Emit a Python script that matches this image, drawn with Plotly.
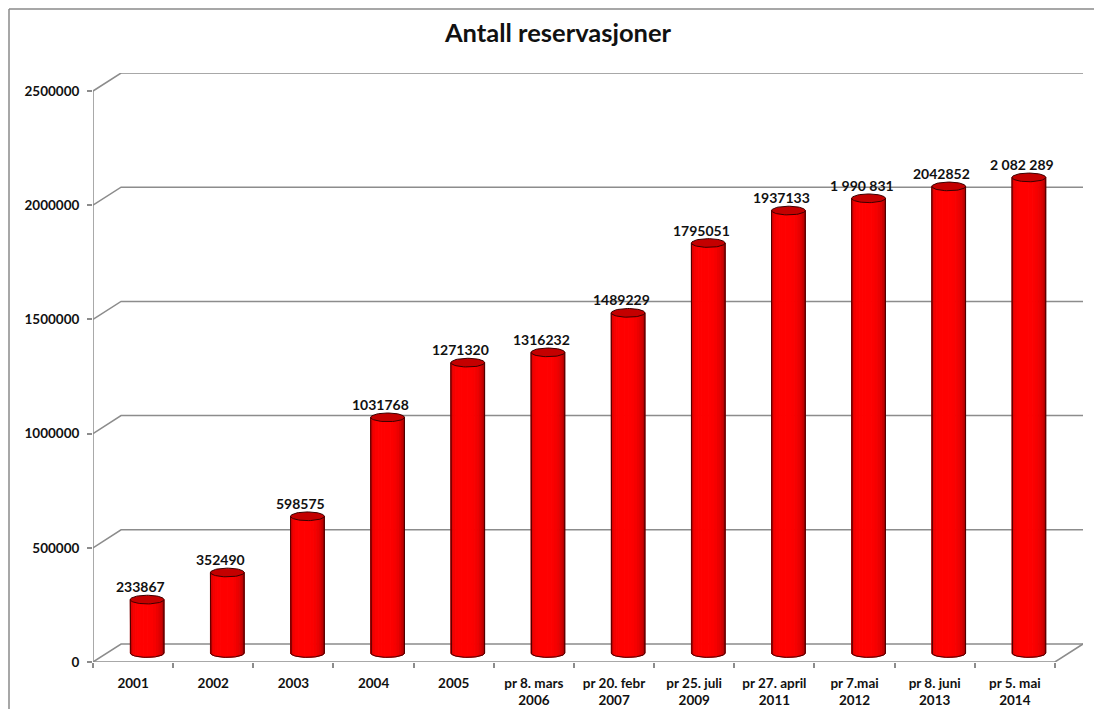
import numpy as np
import plotly.graph_objects as go

# ---------------- data ----------------
categories = ["2001", "2002", "2003", "2004", "2005",
              "pr 8. mars<br>2006", "pr 20. febr<br>2007", "pr 25. juli<br>2009",
              "pr 27. april<br>2011", "pr 7.mai<br>2012", "pr 8. juni<br>2013",
              "pr 5. mai<br>2014"]
values = [233867, 352490, 598575, 1031768, 1271320, 1316232, 1489229,
          1795051, 1937133, 1990831, 2042852, 2082289]
value_labels = ["233867", "352490", "598575", "1031768", "1271320", "1316232",
                "1489229", "1795051", "1937133", "1 990 831", "2042852", "2 082 289"]
y_ticks = [0, 500000, 1000000, 1500000, 2000000, 2500000]
y_tick_labels = ["0", "500000", "1000000", "1500000", "2000000", "2500000"]
title_text = "Antall reservasjoner"

# ---------------- styling / 3D geometry ----------------
N = len(categories)
DX = 0.35        # depth offset along x (category units)
DY = 78800       # depth offset along y (value units)
RX = 0.21        # cylinder radius (category units)
RY = 19000       # ellipse half-height (value units)
GRID = "#8c8c8c"
FONT = "Lato"
TXT = "#111111"
strip_colors = ["#9e0000", "#c80000", "#e40000", "#f40000", "#fc0000", "#ff0000",
                "#ff0000", "#ff0000", "#ff0000", "#fc0000", "#f60000", "#ec0000",
                "#de0000", "#cc0000", "#b60000", "#a00000"]

W, H = 1094, 701     # page adds an 8px body margin on each side
ML, MR, MT, MB = 85, 19, 65, 47
PW, PH = W - ML - MR, H - MT - MB

fig = go.Figure()

# back wall grid lines, left wall diagonals, floor, front axis
gx, gy = [], []
for v in y_ticks:
    gx += [-0.5, -0.5 + DX, N - 0.5 + DX, None]
    gy += [v, v + DY, v + DY, None]
gx += [-0.5, N - 0.5, N - 0.5 + DX, None]
gy += [0, 0, DY, None]
gx += [-0.5, -0.5]
gy += [0, y_ticks[-1]]
fig.add_trace(go.Scatter(x=gx, y=gy, mode="lines", line=dict(color=GRID, width=1.5),
                         cliponaxis=False, hoverinfo="skip", showlegend=False))

# cylinder bodies (shaded strips)
ns = len(strip_colors)
theta_edges = np.linspace(np.pi, 0, ns + 1)
for k, color in enumerate(strip_colors):
    xs, ys = [], []
    for i, v in enumerate(values):
        cx = i + DX / 2
        top = v + DY / 2
        bot = DY / 2
        t = np.linspace(theta_edges[k], theta_edges[k + 1], 5)
        xa = cx + RX * np.cos(t)
        ya = bot - RY * np.sin(t)
        xs += list(xa) + [xa[-1], xa[0], xa[0], None]
        ys += list(ya) + [top, top, ya[0], None]
    fig.add_trace(go.Scatter(x=xs, y=ys, mode="lines", fill="toself", fillcolor=color,
                             line=dict(color=color, width=1), hoverinfo="skip",
                             showlegend=False))

# cylinder outlines
ox, oy = [], []
t_full = np.linspace(np.pi, 0, 40)
for i, v in enumerate(values):
    cx = i + DX / 2
    top = v + DY / 2
    bot = DY / 2
    ox += [cx - RX] + list(cx + RX * np.cos(t_full)) + [cx + RX, None]
    oy += [top] + list(bot - RY * np.sin(t_full)) + [top, None]
fig.add_trace(go.Scatter(x=ox, y=oy, mode="lines", line=dict(color="#4a0000", width=1),
                         hoverinfo="skip", showlegend=False))

# top ellipses
ex, ey = [], []
t_ell = np.linspace(0, 2 * np.pi, 60)
for i, v in enumerate(values):
    cx = i + DX / 2
    top = v + DY / 2
    ex += list(cx + RX * np.cos(t_ell)) + [None]
    ey += list(top + RY * np.sin(t_ell)) + [None]
fig.add_trace(go.Scatter(x=ex, y=ey, mode="lines", fill="toself", fillcolor="#c40000",
                         line=dict(color="#3a0000", width=1), hoverinfo="skip",
                         showlegend=False))

# data labels
for i, (v, lab) in enumerate(zip(values, value_labels)):
    fig.add_annotation(x=i + 0.09, y=v, text=lab, showarrow=False, yshift=22,
                       yanchor="middle",
                       font=dict(family=FONT, size=14, color=TXT, weight="bold"))

# outer frame (only left and top edges fall inside the picture)
fx0 = (-ML + 1) / PW
fy1 = 1 + (MT - 1) / PH
fig.add_shape(type="line", xref="paper", yref="paper", x0=fx0, x1=fx0,
              y0=-MB / PH, y1=fy1, line=dict(color="#8a8a8a", width=1.5))
fig.add_shape(type="line", xref="paper", yref="paper", x0=fx0, x1=1 + MR / PW,
              y0=fy1, y1=fy1, line=dict(color="#8a8a8a", width=1.5))

fig.update_layout(
    width=W, height=H,
    margin=dict(l=ML, r=MR, t=MT, b=MB, autoexpand=False),
    paper_bgcolor="white", plot_bgcolor="white",
    showlegend=False,
    title=dict(text=title_text, xref="container", yref="container",
               x=550 / W, y=1 - 25 / H, xanchor="center", yanchor="middle",
               font=dict(family=FONT, size=25.5, color=TXT, weight="bold")),
    xaxis=dict(range=[-0.5, N - 0.5 + DX], tickvals=list(range(N)), ticktext=categories,
               ticks="", showgrid=False, zeroline=False, showline=False,
               ticklabelstandoff=11,
               tickfont=dict(family=FONT, size=13.5, color=TXT, weight="bold"),
               minor=dict(tickvals=[i - 0.5 for i in range(N + 1)], ticks="outside",
                          ticklen=5, tickcolor=GRID, tickwidth=1.5, showgrid=False),
               fixedrange=True),
    yaxis=dict(range=[0, y_ticks[-1] + DY], tickvals=y_ticks, ticktext=y_tick_labels,
               ticks="outside", ticklen=5, tickcolor=GRID, tickwidth=1.5,
               ticklabelstandoff=5,
               showgrid=False, zeroline=False, showline=False,
               tickfont=dict(family=FONT, size=13.5, color=TXT, weight="bold"),
               fixedrange=True),
)

fig.write_html("out.html")
